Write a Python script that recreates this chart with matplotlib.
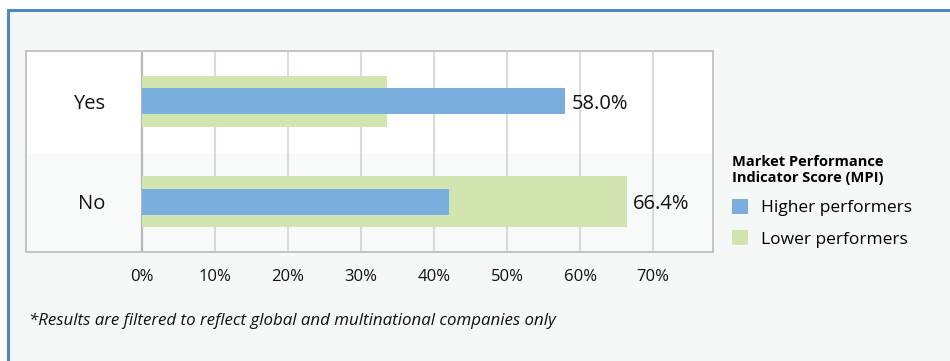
import matplotlib.pyplot as plt
from matplotlib.patches import Rectangle

categories = ['Yes', 'No']
higher = [58.0, 42.0]
lower = [33.6, 66.4]
labels_shown = ['58.0%', '66.4%']
xticks = [0, 10, 20, 30, 40, 50, 60, 70]
series_names = ['Higher performers', 'Lower performers']
legend_title = 'Market Performance\nIndicator Score (MPI)'
footnote = '*Results are filtered to reflect global and multinational companies only'

plt.rcParams['font.family'] = ['Open Sans', 'DejaVu Sans']

W, H = 950, 361
fig = plt.figure(figsize=(W / 100, H / 100), dpi=100)
fig.patch.set_facecolor('white')

# outer panel with blue top/left border
fig.patches.append(Rectangle((8 / W, -0.05), 1.1, 1 - 9.5 / H + 0.05,
                             transform=fig.transFigure, facecolor='#f6f7f7',
                             edgecolor='#4f86c6', linewidth=2.2, zorder=-5))

box_l, box_r, box_t, box_b = 26, 713, 51, 252
ax = fig.add_axes([box_l / W, 1 - box_b / H, (box_r - box_l) / W, (box_b - box_t) / H])
x0_px, scale = 141.5, 7.31
ax.set_xlim((box_l - x0_px) / scale, (box_r - x0_px) / scale)
ax.set_ylim(1.5, -0.5)
ax.set_facecolor('#f8f9f9')
ax.axhspan(-0.5, 0.5, color='white', zorder=0)

for t in xticks[1:]:
    ax.axvline(t, color='#dadada', linewidth=1.5, zorder=1)
ax.axvline(0, color='#b8b8b8', linewidth=1.6, zorder=1)

ypos = list(range(len(categories)))
b_low = ax.barh(ypos, lower, height=0.51, color='#d2e4b0', zorder=2, label=series_names[1])
b_high = ax.barh(ypos, higher, height=0.26, color='#7aaedc', zorder=3, label=series_names[0])

for y, lab in zip(ypos, categories):
    ax.text(-5.0, y, lab, ha='right', va='center_baseline', fontsize=14.5, color='#111111')

# value labels next to the longest bar of each row
for y, h, l, txt in zip(ypos, higher, lower, labels_shown):
    ax.text(max(h, l) + 0.8, y, txt, ha='left', va='center_baseline', fontsize=14.5,
            color='#111111')

ax.set_xticks(xticks)
ax.set_xticklabels([f'{t}%' for t in xticks], fontsize=12, color='#111111')
ax.tick_params(axis='x', length=0, pad=12)
ax.set_yticks([])
for s in ax.spines.values():
    s.set_color('#c4c4c4')
    s.set_linewidth(1.4)

leg = fig.legend(handles=[b_high, b_low], title=legend_title, loc='upper left',
                 bbox_to_anchor=(725 / W, 1 - 148 / H), frameon=False,
                 fontsize=12.5, handlelength=0.95, handleheight=1.0,
                 handletextpad=0.75, labelspacing=0.78, borderaxespad=0,
                 alignment='left', title_fontproperties={'weight': 'bold', 'size': 10.5})

fig.text(29 / W, 1 - 321 / H, footnote, ha='left', va='center', fontsize=12.2,
         style='italic', color='#111111')

fig.savefig('out.png', dpi=100)
